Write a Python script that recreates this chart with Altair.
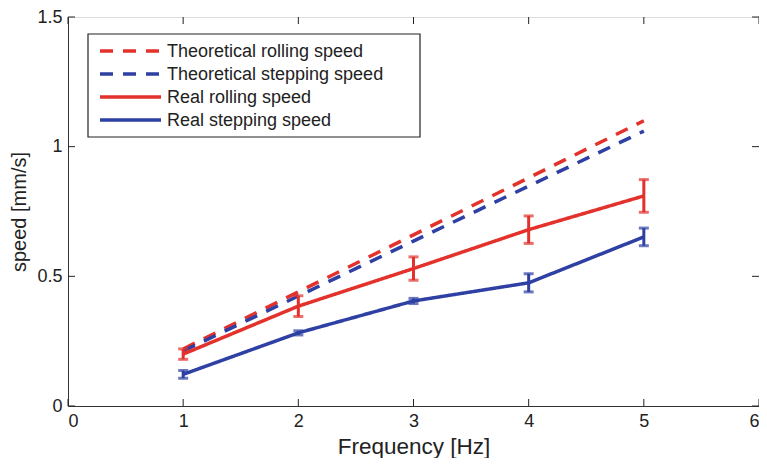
import altair as alt
import pandas as pd

freq = [1, 2, 3, 4, 5]
theo_rolling = [0.22, 0.44, 0.66, 0.88, 1.10]
theo_stepping = [0.212, 0.424, 0.636, 0.848, 1.06]
real_rolling = [0.20, 0.385, 0.53, 0.68, 0.81]
real_rolling_err = [0.02, 0.04, 0.045, 0.053, 0.063]
real_stepping = [0.122, 0.282, 0.405, 0.475, 0.652]
real_stepping_err = [0.015, 0.008, 0.01, 0.035, 0.034]

series_names = ["Theoretical rolling speed", "Theoretical stepping speed",
                "Real rolling speed", "Real stepping speed"]
series_colors = ["#e3312b", "#2e40a3", "#e3312b", "#2e40a3"]
series_dash = [[13, 10], [13, 10], [1, 0], [1, 0]]

x_ticks = [0, 1, 2, 3, 4, 5, 6]
y_ticks = [0, 0.5, 1, 1.5]

W, H = 691, 389
TL = 7
FONT = "Liberation Sans"

rows = []
for name, vals in zip(series_names, [theo_rolling, theo_stepping, real_rolling, real_stepping]):
    for f, v in zip(freq, vals):
        rows.append({"series": name, "freq": f, "speed": v})
lines_df = pd.DataFrame(rows)

err_rows = []
for name, vals, errs in [(series_names[2], real_rolling, real_rolling_err),
                         (series_names[3], real_stepping, real_stepping_err)]:
    for f, v, e in zip(freq, vals, errs):
        err_rows.append({"series": name, "freq": f, "lo": v - e, "hi": v + e})
err_df = pd.DataFrame(err_rows)

xscale = alt.Scale(domain=[0, 6], nice=False, zero=False)
yscale = alt.Scale(domain=[0, 1.5], nice=False)
color_scale = alt.Scale(domain=series_names, range=series_colors)
dash_scale = alt.Scale(domain=series_names, range=series_dash)

x_axis = alt.Axis(values=x_ticks, format="~g", tickSize=0, labelPadding=6,
                  labelFont=FONT, labelFontSize=18, labelColor="#222",
                  title="Frequency [Hz]", titleFont=FONT, titleFontSize=22.5,
                  titleFontWeight="normal", titleColor="#222", titlePadding=5,
                  domainColor="#333", grid=False)
y_axis = alt.Axis(values=y_ticks, format="~g", tickSize=0, labelPadding=6,
                  labelFont=FONT, labelFontSize=18, labelColor="#222",
                  title="speed [mm/s]", titleFont=FONT, titleFontSize=20,
                  titleFontWeight="normal", titleColor="#222", titlePadding=7,
                  domainColor="#333", grid=False)

lines = alt.Chart(lines_df).mark_line(strokeWidth=3.5).encode(
    x=alt.X("freq:Q", scale=xscale, axis=x_axis),
    y=alt.Y("speed:Q", scale=yscale, axis=y_axis),
    color=alt.Color("series:N", scale=color_scale, legend=None),
    strokeDash=alt.StrokeDash("series:N", scale=dash_scale, legend=None),
    detail="series:N",
)

err_base = alt.Chart(err_df)
err_color = alt.Color("series:N", scale=color_scale, legend=None)
err_rule = err_base.mark_rule(strokeWidth=3).encode(
    x=alt.X("freq:Q", scale=xscale),
    y=alt.Y("lo:Q", scale=yscale),
    y2="hi:Q",
    color=err_color,
)
cap_lo = err_base.mark_tick(orient="horizontal", size=10, thickness=3).encode(
    x=alt.X("freq:Q", scale=xscale),
    y=alt.Y("lo:Q", scale=yscale),
    color=err_color,
)
cap_hi = err_base.mark_tick(orient="horizontal", size=10, thickness=3).encode(
    x=alt.X("freq:Q", scale=xscale),
    y=alt.Y("hi:Q", scale=yscale),
    color=err_color,
)

xt_df = pd.DataFrame({"t": x_ticks})
yt_df = pd.DataFrame({"t": y_ticks})
tick_color = alt.value("#222")
xt_bottom = alt.Chart(xt_df).mark_rule(strokeWidth=1).encode(
    x=alt.X("t:Q", scale=xscale), y=alt.value(H), y2=alt.value(H - TL), color=tick_color)
xt_top = alt.Chart(xt_df).mark_rule(strokeWidth=1).encode(
    x=alt.X("t:Q", scale=xscale), y=alt.value(0), y2=alt.value(TL), color=tick_color)
yt_left = alt.Chart(yt_df).mark_rule(strokeWidth=1).encode(
    y=alt.Y("t:Q", scale=yscale), x=alt.value(0), x2=alt.value(TL), color=tick_color)
yt_right = alt.Chart(yt_df).mark_rule(strokeWidth=1).encode(
    y=alt.Y("t:Q", scale=yscale), x=alt.value(W), x2=alt.value(W - TL), color=tick_color)

data_layers = alt.layer(
    xt_bottom, xt_top, yt_left, yt_right,
    lines, err_rule, cap_lo, cap_hi,
)

# legend (drawn by hand so the rows can be compact, as in the reference)
leg_df = pd.DataFrame({"series": series_names, "row": [0, 1, 2, 3]})
leg_y = alt.Y("row:Q", scale=alt.Scale(domain=[0, 3], range=[34, 103]), axis=None)
leg_frame = alt.Chart(pd.DataFrame({"a": [0]})).mark_rect(
    fill="white", stroke="#222", strokeWidth=1.2
).encode(x=alt.value(20), x2=alt.value(352), y=alt.value(17), y2=alt.value(120))
leg_sym = alt.Chart(leg_df).mark_rule(strokeWidth=3.5).encode(
    x=alt.value(32), x2=alt.value(93), y=leg_y,
    color=alt.Color("series:N", scale=color_scale, legend=None),
    strokeDash=alt.StrokeDash("series:N", scale=dash_scale, legend=None),
)
leg_txt = alt.Chart(leg_df).mark_text(
    align="left", baseline="middle", font=FONT, fontSize=18, color="#222", dy=1
).encode(x=alt.value(99), y=leg_y, text="series:N")
legend_layers = alt.layer(leg_frame, leg_sym, leg_txt)

chart = alt.layer(data_layers, legend_layers).resolve_scale(
    y="independent"
).properties(
    width=W, height=H,
    autosize=alt.AutoSizeParams(type="none"),
    padding={"left": 60, "top": 9, "right": 0, "bottom": 52},
).configure_view(
    stroke="#444", strokeWidth=1.2,
).configure(background="white")

chart.save("out.html", embed_options={"renderer": "svg", "actions": False})
